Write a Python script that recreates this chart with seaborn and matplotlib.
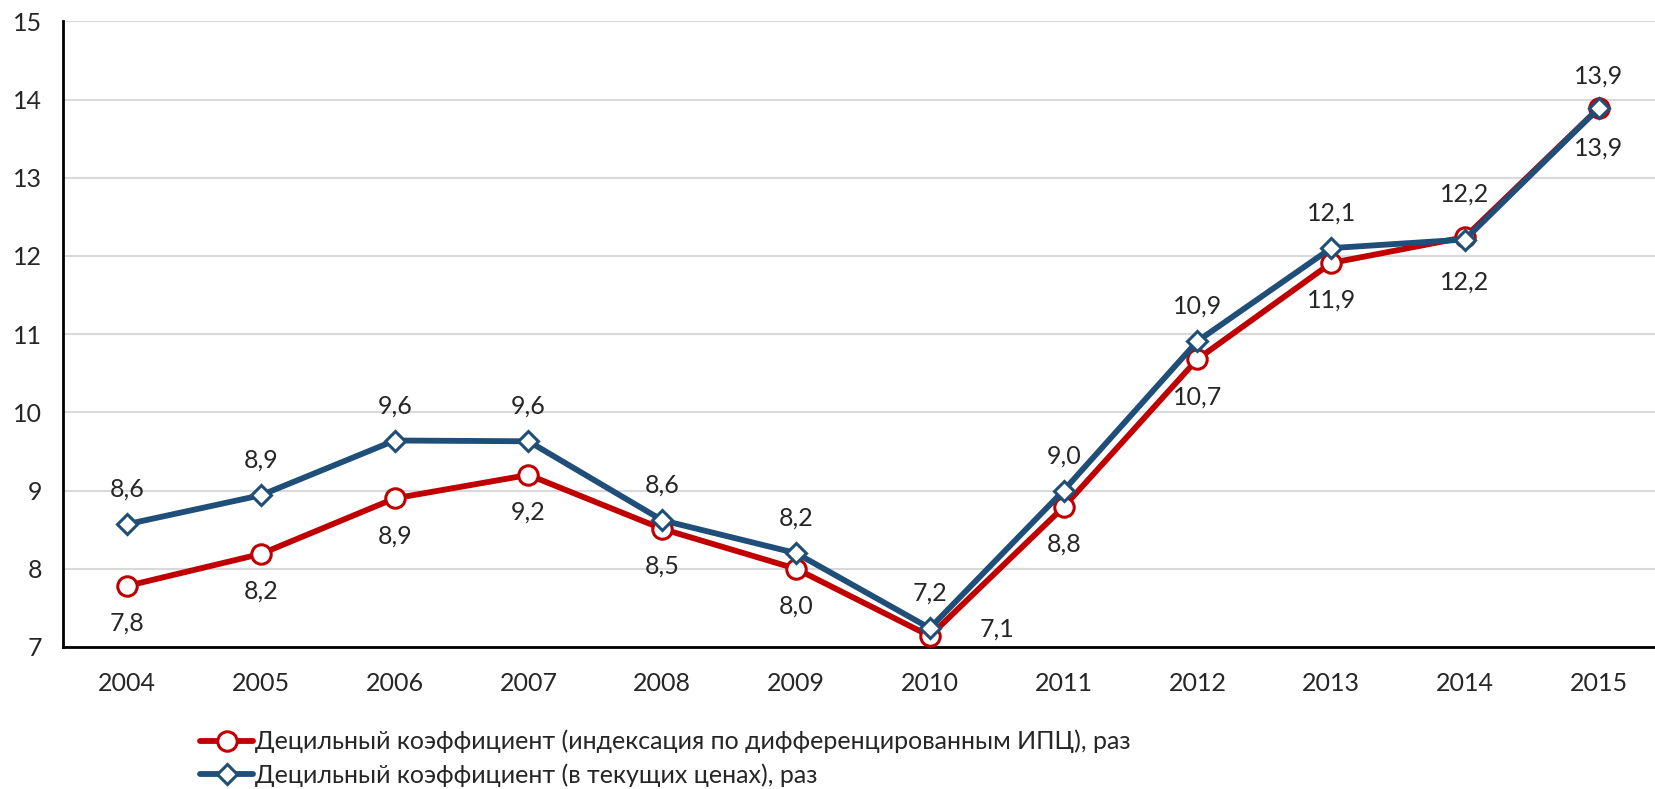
import pandas as pd
import matplotlib.pyplot as plt
import seaborn as sns

years = ["2004", "2005", "2006", "2007", "2008", "2009",
         "2010", "2011", "2012", "2013", "2014", "2015"]
cpi_indexed = [7.78, 8.19, 8.90, 9.20, 8.51, 8.00, 7.14, 8.79, 10.68, 11.91, 12.24, 13.89]
current_prices = [8.57, 8.94, 9.64, 9.63, 8.62, 8.20, 7.24, 9.00, 10.91, 12.10, 12.21, 13.89]
cpi_label = "Децильный коэффициент (индексация по дифференцированным ИПЦ), раз"
cur_label = "Децильный коэффициент (в текущих ценах), раз"

RED = "#C00000"
BLUE = "#1F4E79"
FS = 18

sns.set_style("white")
plt.rcParams["font.family"] = ["Lato", "DejaVu Sans"]
plt.rcParams["font.size"] = FS

df = pd.DataFrame({"pos": range(len(years)), "cpi": cpi_indexed, "cur": current_prices})

fig = plt.figure(figsize=(16.55, 7.89), dpi=100)
ax = fig.add_axes([0.038, 0.18, 0.962, 0.793])

sns.lineplot(data=df, x="pos", y="cpi", ax=ax, color=RED, linewidth=4.2,
             marker="o", markersize=14, markerfacecolor="white",
             markeredgecolor=RED, markeredgewidth=2.2, label=cpi_label, zorder=3)
sns.lineplot(data=df, x="pos", y="cur", ax=ax, color=BLUE, linewidth=4.2,
             marker="D", markersize=10.5, markerfacecolor="white",
             markeredgecolor=BLUE, markeredgewidth=2.2, label=cur_label, zorder=4)

# label placement (offset points); red below, blue above by default
red_off = {6: (48, 5), 10: (0, 31), 11: (0, 23)}
blue_off = {10: (0, -31), 11: (0, -29)}

for i, v in enumerate(cpi_indexed):
    dx, dy = red_off.get(i, (0, -27))
    ax.annotate(f"{v:.1f}".replace(".", ","), (i, v), xytext=(dx, dy),
                textcoords="offset points", ha="center", va="center", fontsize=FS)
for i, v in enumerate(current_prices):
    dx, dy = blue_off.get(i, (0, 25))
    ax.annotate(f"{v:.1f}".replace(".", ","), (i, v), xytext=(dx, dy),
                textcoords="offset points", ha="center", va="center", fontsize=FS)

ax.set_xlim(-0.48, 11.42)
ax.set_ylim(7, 15)
ax.set_yticks(range(7, 16))
ax.set_xticks(range(len(years)))
ax.set_xticklabels(years)
ax.set_xlabel("")
ax.set_ylabel("")
ax.grid(axis="y", color="#D9D9D9", linewidth=1.5)
ax.set_axisbelow(True)
ax.tick_params(axis="both", length=0, labelsize=FS)
ax.tick_params(axis="y", pad=15)
ax.tick_params(axis="x", pad=18)
sns.despine(ax=ax, top=True, right=True)
for s in ("left", "bottom"):
    ax.spines[s].set_color("black")
    ax.spines[s].set_linewidth(2)

ax.get_legend().remove()
handles, labels = ax.get_legend_handles_labels()
fig.legend(handles, labels, loc="upper left", bbox_to_anchor=(0.121, 0.075),
           frameon=False, handlelength=2.1, handletextpad=0.1, labelspacing=0.4,
           fontsize=FS, borderaxespad=0, borderpad=0)

fig.savefig("out.png", dpi=100)
